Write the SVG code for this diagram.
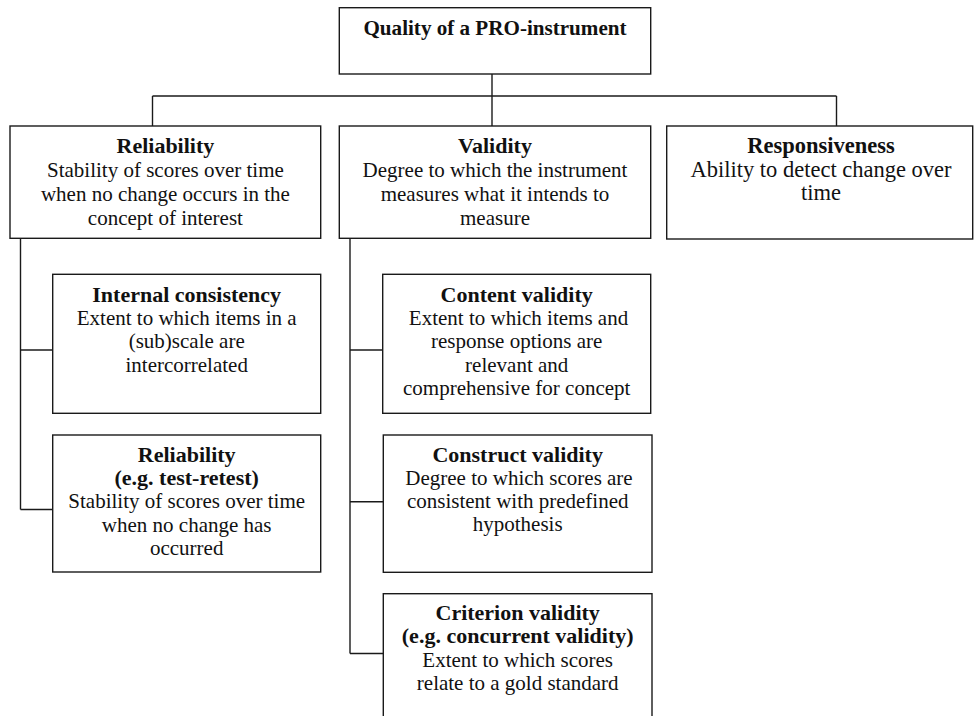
<svg xmlns="http://www.w3.org/2000/svg" width="974" height="716" viewBox="0 0 974 716">
<style>
rect.box { fill: #ffffff; stroke: #1a1a1a; stroke-width: 1.4; }
.conn line, .conn polyline { stroke: #1a1a1a; stroke-width: 1.4; fill: none; }
text { font-family: "Liberation Serif", "Times New Roman", serif; fill: #111; text-anchor: middle; font-size: 21px; }
text.t { font-weight: bold; font-size: 22px; }
text.tq { font-weight: bold; font-size: 21.1px; }
text.tnr { font-size: 22.5px; }
text.tnrb { font-size: 22.5px; font-weight: bold; }
</style>
<rect width="974" height="716" fill="#ffffff"/>
<g class="conn" id="connectors">
  <line x1="492" y1="74" x2="492" y2="126"/>
  <line x1="152.5" y1="96" x2="836.5" y2="96"/>
  <line x1="152.5" y1="96" x2="152.5" y2="126"/>
  <line x1="836.5" y1="96" x2="836.5" y2="126"/>
  <line x1="20.5" y1="238" x2="20.5" y2="509.5"/>
  <line x1="20.5" y1="350" x2="52.7" y2="350"/>
  <line x1="20.5" y1="509.5" x2="52.7" y2="509.5"/>
  <line x1="350" y1="238" x2="350" y2="653.5"/>
  <line x1="350" y1="350" x2="382.7" y2="350"/>
  <line x1="350" y1="501.7" x2="383.3" y2="501.7"/>
  <line x1="350" y1="653.5" x2="383.3" y2="653.5"/>
</g>
<g id="quality">
  <rect class="box" x="339.3" y="7.7" width="311.4" height="66.3"/>
  <text class="tq" x="495" y="35">Quality of a PRO-instrument</text>
</g>
<g id="reliability">
  <rect class="box" x="10" y="126" width="310.7" height="112.3"/>
  <text class="t" x="165.4" y="152.7">Reliability</text>
  <text x="165.4" y="177">Stability of scores over time</text>
  <text x="165.4" y="201.3">when no change occurs in the</text>
  <text x="165.4" y="225.3">concept of interest</text>
</g>
<g id="validity">
  <rect class="box" x="339.3" y="126" width="311.4" height="112.3"/>
  <text class="t" x="495" y="152.7">Validity</text>
  <text x="495" y="177">Degree to which the instrument</text>
  <text x="495" y="201.3">measures what it intends to</text>
  <text x="495" y="225.3">measure</text>
</g>
<g id="responsiveness">
  <rect class="box" x="666.7" y="126" width="306" height="113"/>
  <text class="tnrb" x="821" y="152.7">Responsiveness</text>
  <text class="tnr" x="821" y="176.7">Ability to detect change over</text>
  <text class="tnr" x="821" y="200">time</text>
</g>
<g id="internal-consistency">
  <rect class="box" x="52.7" y="274.3" width="268" height="139"/>
  <text class="t" x="186.7" y="301.7">Internal consistency</text>
  <text x="186.7" y="325">Extent to which items in a</text>
  <text x="186.7" y="348.3">(sub)scale are</text>
  <text x="186.7" y="371.7">intercorrelated</text>
</g>
<g id="reliability-test-retest">
  <rect class="box" x="52.7" y="435" width="268" height="137"/>
  <text class="t" x="186.7" y="461.7">Reliability</text>
  <text class="t" x="186.7" y="485">(e.g. test-retest)</text>
  <text x="186.7" y="508.3">Stability of scores over time</text>
  <text x="186.7" y="531.7">when no change has</text>
  <text x="186.7" y="555">occurred</text>
</g>
<g id="content-validity">
  <rect class="box" x="382.7" y="274.3" width="268" height="139"/>
  <text class="t" x="516.7" y="301.7">Content validity</text>
  <text x="518.5" y="325">Extent to which items and</text>
  <text x="516.7" y="348.3">response options are</text>
  <text x="516.7" y="371.7">relevant and</text>
  <text x="516.7" y="395">comprehensive for concept</text>
</g>
<g id="construct-validity">
  <rect class="box" x="383.3" y="435" width="268.7" height="137.3"/>
  <text class="t" x="517.7" y="461.7">Construct validity</text>
  <text x="519" y="485">Degree to which scores are</text>
  <text x="517.7" y="508.3">consistent with predefined</text>
  <text x="517.7" y="531">hypothesis</text>
</g>
<g id="criterion-validity">
  <rect class="box" x="383.3" y="593.7" width="268.7" height="140"/>
  <text class="t" x="517.7" y="620">Criterion validity</text>
  <text class="t" x="517.7" y="643.3">(e.g. concurrent validity)</text>
  <text x="517.7" y="666.7">Extent to which scores</text>
  <text x="517.7" y="690">relate to a gold standard</text>
</g>
</svg>
